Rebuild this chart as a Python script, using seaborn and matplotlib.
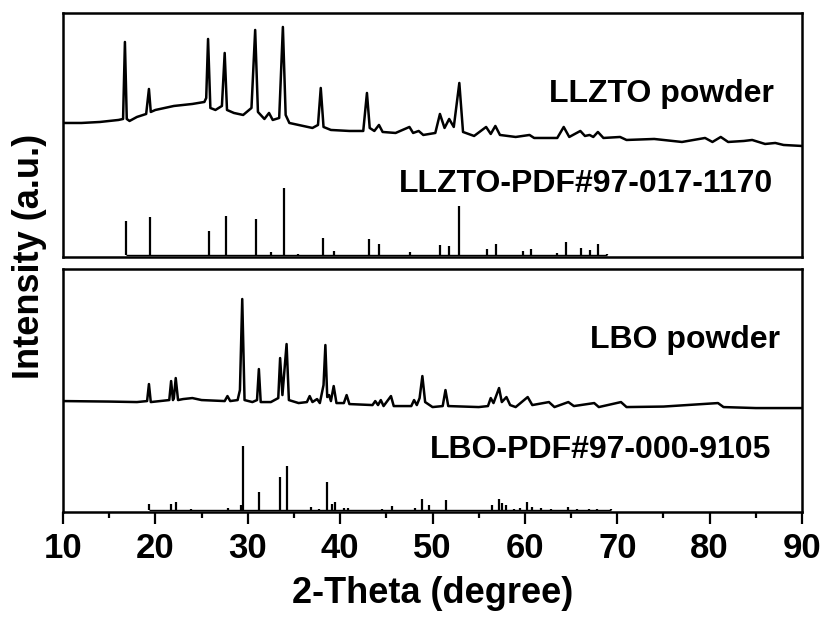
import numpy as np
import matplotlib
matplotlib.use("Agg")
import matplotlib.pyplot as plt
import seaborn as sns
from matplotlib.ticker import MultipleLocator

# LLZTO powder pattern (2-theta, intensity a.u.)
llzto_2theta = [10, 12, 14, 16, 16.5, 16.7, 16.9, 17.2, 18, 19, 19.3, 19.5, 20, 22, 24,
                25.3, 25.5, 25.7, 25.95, 26.5, 27.2, 27.5, 27.75, 28.5, 29.5, 30.4, 30.8,
                31.1, 31.8, 32.3, 32.7, 33.4, 33.8, 34.1, 34.5, 35.5, 37, 37.6, 37.9, 38.2,
                39, 41, 42.5, 42.9, 43.2, 43.7, 44.2, 44.6, 46, 47.5, 47.9, 48.5, 49, 50.3,
                50.8, 51.3, 51.8, 52.3, 52.9, 53.3, 54.5, 55.8, 56.3, 56.8, 57.3, 59, 60.5,
                61, 63.5, 64.2, 64.8, 66.0, 66.5, 67.0, 67.4, 67.9, 68.5, 70.3, 71, 74, 76,
                77, 79.5, 80.3, 81.2, 82, 83.7, 84.6, 86, 87.1, 88, 90]
llzto_int = [132, 132, 133, 135, 136, 213, 136, 134, 138, 141, 166, 143, 145, 149, 151,
             153, 157, 216, 147, 145, 149, 202, 145, 142, 140, 147, 225,
             143, 136, 142, 135, 137, 228, 140, 132, 130, 127, 130, 167, 128,
             125, 124, 124, 162, 127, 124, 130, 123, 122, 128, 122, 124, 120, 122,
             141, 127, 136, 128, 172, 123, 119, 128, 121, 129, 120, 118, 120,
             117, 117, 128, 118, 124, 119, 120, 118, 123, 117, 118, 115, 116, 114,
             113, 117, 113, 118, 113, 114, 115, 111, 112, 110, 109]

# LLZTO reference (PDF#97-017-1170) stick pattern
llzto_ref_2theta = [16.8, 19.4, 25.8, 27.6, 30.9, 32.5, 33.9, 35.4, 38.1, 39.3, 43.1, 44.2,
                    47.6, 50.8, 51.8, 52.9, 55.9, 56.9, 59.8, 60.7, 63.5, 64.4, 66.1, 67.0,
                    67.9, 68.9]
llzto_ref_int = [34, 38, 24, 39, 36, 2.5, 67, 1, 17, 3.5, 16, 11,
                 2.5, 10, 8.5, 49, 6, 11, 3.5, 6, 2, 13, 7, 5,
                 11, 0.5]

# LBO powder pattern
lbo_2theta = [10, 15, 18, 19.1, 19.3, 19.5, 20.5, 21.5, 21.7, 21.9, 22.0, 22.2, 22.45, 23,
              24, 25, 27.5, 27.8, 28.1, 28.9, 29.15, 29.4, 29.65, 30.5, 31.0, 31.2, 31.4,
              32.5, 33.3, 33.5, 33.75, 34.2, 34.45, 35.5, 36.4, 36.7, 37.0, 37.5, 37.8,
              38.2, 38.4, 38.6, 38.8, 39.0, 39.3, 39.6, 40.4, 40.7, 41.0, 43.5, 43.8, 44.1,
              44.4, 44.7, 45.5, 45.8, 47.7, 48.0, 48.3, 48.6, 48.9, 49.2, 50, 51.1, 51.4,
              51.7, 55, 56.0, 56.3, 56.6, 57.2, 57.5, 58.0, 58.4, 59, 60.3, 60.8, 62.6,
              63.2, 64.7, 65.3, 67.5, 68, 70.4, 71, 75, 80.9, 81.5, 85, 90]
lbo_int = [109, 108.5, 108, 109, 126, 108, 109, 110, 129, 110, 112, 132, 110, 111,
           112, 110, 109, 114, 109, 110, 120, 211, 110, 108, 110, 141, 108,
           108, 112, 152, 115, 166, 110, 107, 108, 114, 108, 111, 107,
           125, 165, 113, 115, 109, 124, 107, 107, 115, 106, 105, 109, 105,
           110, 104, 114, 104, 104, 110, 105, 112, 134, 108, 103, 104, 120,
           104, 103, 104, 112, 107, 122, 108, 113, 105, 103, 113, 105, 108,
           103, 108, 104, 107, 103, 108, 103, 103.5, 107, 103, 102, 102]

# LBO reference (PDF#97-000-9105) stick pattern
lbo_ref_2theta = [19.35, 21.7, 22.2, 23.9, 27.9, 29.3, 29.5, 31.2, 33.5, 34.2, 36.8, 37.7,
                  38.6, 39.1, 39.4, 40.4, 40.8, 44.5, 45.6, 48.1, 48.9, 49.6, 51.5, 56.4,
                  57.2, 57.5, 58.0, 58.8, 59.5, 60.2, 60.8, 61.7, 62.8, 64.7, 65.6, 66.9,
                  67.8, 69.3]
lbo_ref_int = [6, 6, 8, 1, 2.5, 5, 64, 18, 33, 44, 3.5, 1,
               28, 6, 8.5, 2, 2.5, 1, 4.5, 2.5, 11, 5, 10, 5,
               11, 7, 5, 1, 2, 8.5, 3, 2, 1, 3.5, 1.5, 1.5,
               1.5, 1]

sns.set_style("ticks")
plt.rcParams["font.family"] = ["Liberation Sans", "DejaVu Sans"]
plt.rcParams["font.weight"] = "bold"
plt.rcParams["text.color"] = "black"
plt.rcParams["axes.edgecolor"] = "black"
plt.rcParams["xtick.color"] = "black"
plt.rcParams["axes.labelcolor"] = "black"

fig = plt.figure(figsize=(8.26, 6.17), dpi=100)
ax1 = fig.add_axes([0.0763, 0.5835, 0.8947, 0.3955])
ax2 = fig.add_axes([0.0763, 0.170, 0.8947, 0.394])

panels = [
    (ax1, llzto_2theta, llzto_int, llzto_ref_2theta, llzto_ref_int,
     "LLZTO powder", "LLZTO-PDF#97-017-1170", (87.0, 153.3), (86.9, 63.3), 242),
    (ax2, lbo_2theta, lbo_int, lbo_ref_2theta, lbo_ref_int,
     "LBO powder", "LBO-PDF#97-000-9105", (87.6, 161.7), (86.7, 51.7), 241),
]

for ax, x, y, rx, ry, lab1, lab2, p1, p2, ytop in panels:
    sns.lineplot(x=x, y=y, ax=ax, color="black", linewidth=1.8,
                 estimator=None, sort=False)
    ax.vlines(rx, 0, ry, color="black", linewidth=1.6)
    ax.hlines(0, min(rx), max(rx), color="black", linewidth=1.0)
    ax.text(p1[0], p1[1], lab1, ha="right", va="baseline", fontsize=23, fontweight="bold")
    ax.text(p2[0], p2[1], lab2, ha="right", va="baseline", fontsize=23, fontweight="bold")
    ax.set_xlim(10, 90)
    ax.set_ylim(-2, ytop)
    ax.set_yticks([])
    ax.set_ylabel("")
    for s in ax.spines.values():
        s.set_linewidth(1.8)
        s.set_visible(True)

ax1.set_xticks([])
ax1.set_xlabel("")

ax2.xaxis.set_major_locator(MultipleLocator(10))
ax2.xaxis.set_minor_locator(MultipleLocator(5))
ax2.tick_params(axis="x", which="major", length=8.5, width=1.6, direction="out",
                labelsize=25, pad=6)
ax2.tick_params(axis="x", which="minor", length=4.3, width=1.6, direction="out")
for lbl in ax2.get_xticklabels():
    lbl.set_fontweight("bold")
ax2.set_xlabel("2-Theta (degree)", fontsize=26, fontweight="bold", labelpad=8)

fig.text(0.036, 0.585, "Intensity (a.u.)", rotation=90, ha="center", va="center",
         fontsize=26, fontweight="bold")

fig.savefig("out.png", dpi=100)
